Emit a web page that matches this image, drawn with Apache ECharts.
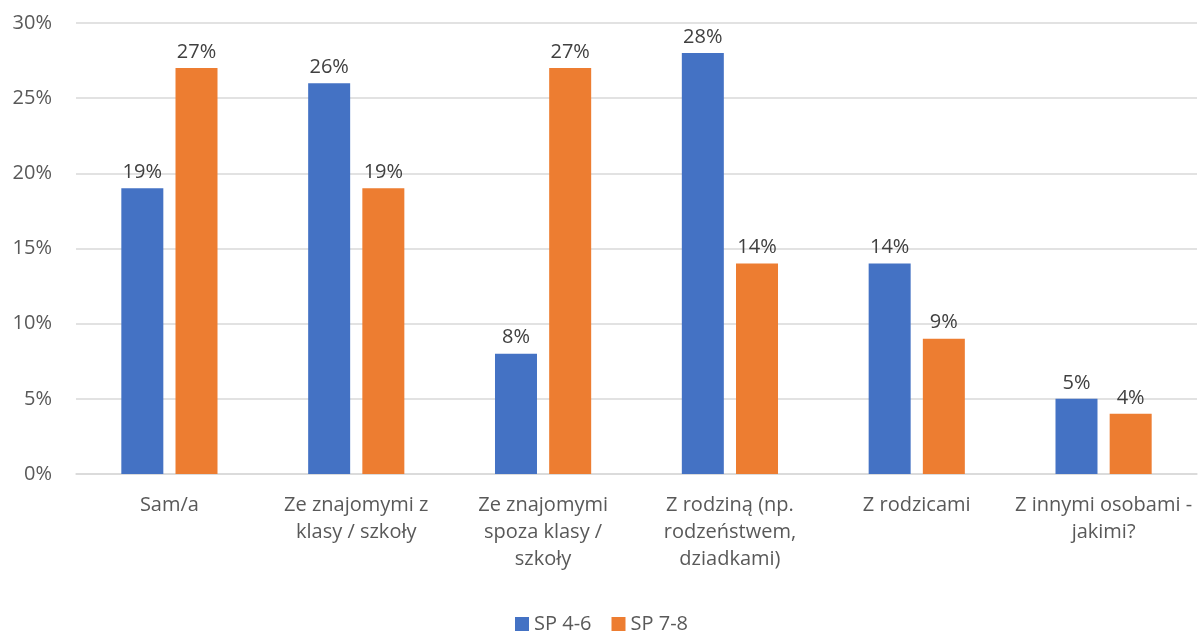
<!DOCTYPE html>
<html><head><meta charset="utf-8">
<script src="https://cdn.jsdelivr.net/npm/echarts@6/dist/echarts.min.js"></script>
<style>html,body{margin:0;padding:0;background:#fff}#c{width:1203px;height:638px}</style>
</head><body><div id="c"></div>
<script>
const categories = ["Sam/a", "Ze znajomymi z\nklasy / szkoły", "Ze znajomymi\nspoza klasy /\nszkoły", "Z rodziną (np.\nrodzeństwem,\ndziadkami)", "Z rodzicami", "Z innymi osobami -\njakimi?"];
const seriesNames = ["SP 4-6", "SP 7-8"];
const sp46 = [19, 26, 8, 28, 14, 5];
const sp78 = [27, 19, 27, 14, 9, 4];
const yTicks = [0, 5, 10, 15, 20, 25, 30];

const font = "'Open Sans', sans-serif";
const chart = echarts.init(document.getElementById('c'));
const label = {show: true, position: 'top', formatter: p => p.value + '%', color: '#404040', fontSize: 20, fontFamily: font, distance: 6};
chart.setOption({
  animation: false,
  color: ['#4472C4', '#ED7D31'],
  grid: {left: 76, right: 6, top: 23, bottom: 164, containLabel: false},
  legend: {bottom: -1, left: 'center', itemWidth: 14, itemHeight: 14, itemGap: 20, icon: 'rect',
    textStyle: {color: '#595959', fontSize: 20, fontFamily: font}, data: seriesNames},
  xAxis: {type: 'category', data: categories,
    axisLine: {lineStyle: {color: '#D9D9D9', width: 1.5}}, axisTick: {show: false},
    axisLabel: {color: '#595959', fontSize: 20, fontFamily: font, lineHeight: 27, margin: 18, interval: 0}},
  yAxis: {type: 'value', min: yTicks[0], max: yTicks[yTicks.length-1], interval: 5,
    axisLabel: {formatter: '{value}%', color: '#595959', fontSize: 20, fontFamily: font, margin: 24},
    splitLine: {lineStyle: {color: '#D9D9D9', width: 1.5}}, axisLine: {show: false}, axisTick: {show: false}},
  series: [
    {name: seriesNames[0], type: 'bar', data: sp46, barWidth: 42, barGap: '29%', label},
    {name: seriesNames[1], type: 'bar', data: sp78, barWidth: 42, barGap: '29%', label}
  ]
});
</script></body></html>
